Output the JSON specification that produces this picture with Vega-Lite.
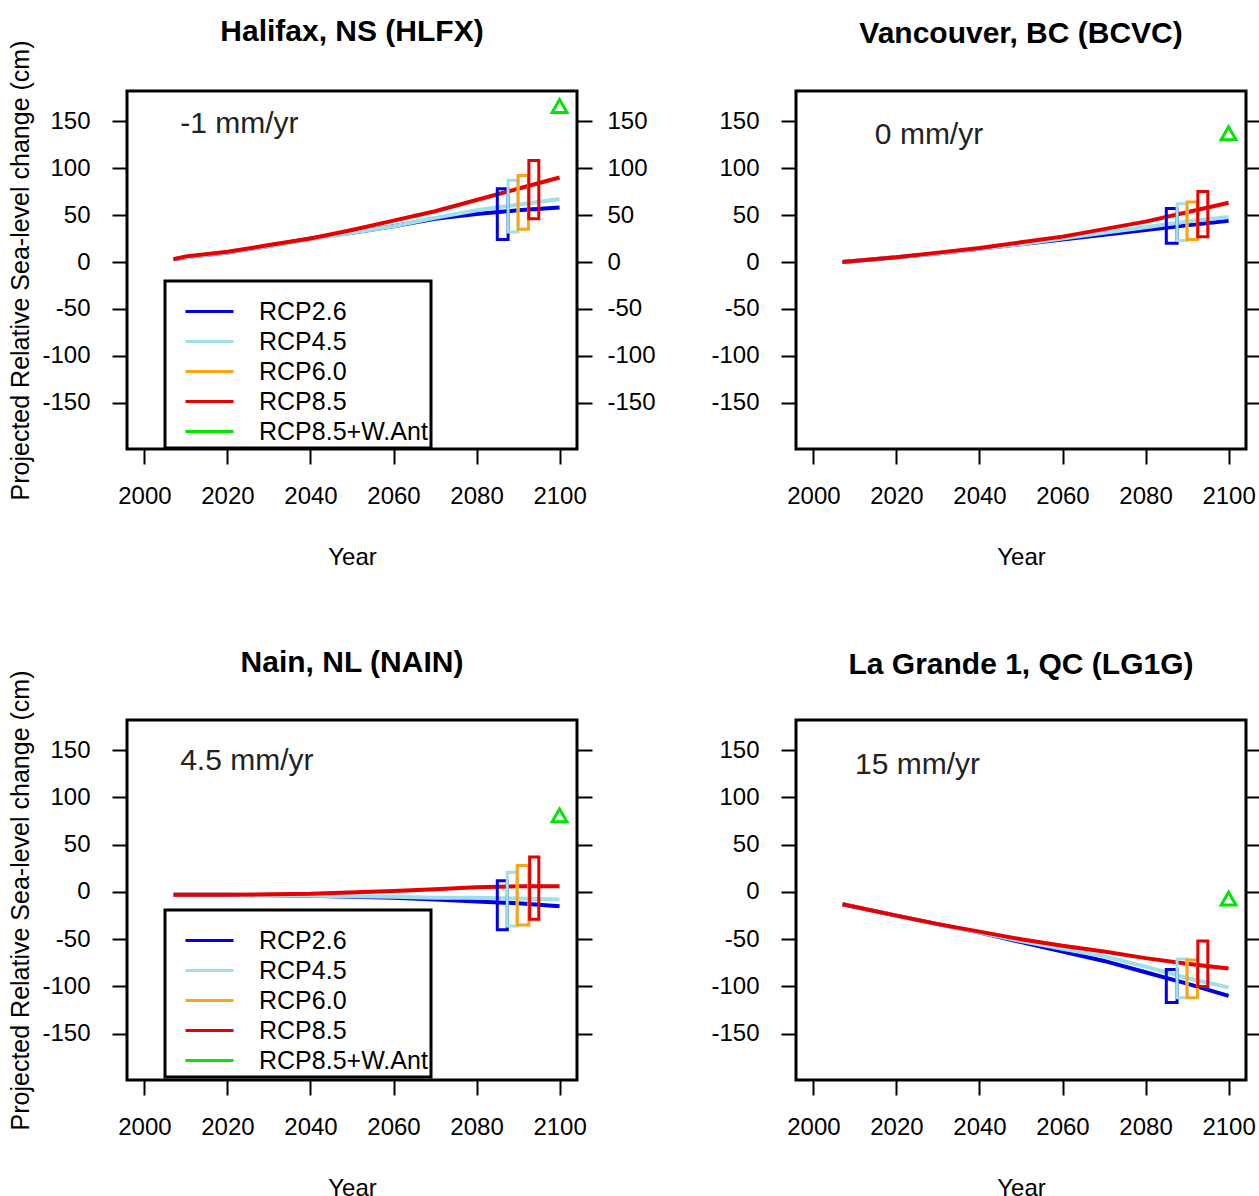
{
  "$schema": "https://vega.github.io/schema/vega-lite/v6.json",
  "background": "white",
  "padding": {"left": 7, "top": 15, "right": 0, "bottom": 0},
  "datasets": {
    "lines": [
      {"p":"HLFX","s":"RCP2.6","yr":2007,"v":3},{"p":"HLFX","s":"RCP2.6","yr":2010,"v":5},{"p":"HLFX","s":"RCP2.6","yr":2020,"v":10},{"p":"HLFX","s":"RCP2.6","yr":2030,"v":17},{"p":"HLFX","s":"RCP2.6","yr":2040,"v":25},{"p":"HLFX","s":"RCP2.6","yr":2050,"v":31},{"p":"HLFX","s":"RCP2.6","yr":2060,"v":38},{"p":"HLFX","s":"RCP2.6","yr":2070,"v":46},{"p":"HLFX","s":"RCP2.6","yr":2080,"v":51},{"p":"HLFX","s":"RCP2.6","yr":2090,"v":55},{"p":"HLFX","s":"RCP2.6","yr":2100,"v":58},
      {"p":"HLFX","s":"RCP4.5","yr":2007,"v":3},{"p":"HLFX","s":"RCP4.5","yr":2010,"v":5},{"p":"HLFX","s":"RCP4.5","yr":2020,"v":10},{"p":"HLFX","s":"RCP4.5","yr":2030,"v":17},{"p":"HLFX","s":"RCP4.5","yr":2040,"v":24},{"p":"HLFX","s":"RCP4.5","yr":2050,"v":31},{"p":"HLFX","s":"RCP4.5","yr":2060,"v":38},{"p":"HLFX","s":"RCP4.5","yr":2070,"v":47},{"p":"HLFX","s":"RCP4.5","yr":2080,"v":55},{"p":"HLFX","s":"RCP4.5","yr":2090,"v":61},{"p":"HLFX","s":"RCP4.5","yr":2100,"v":67},
      {"p":"HLFX","s":"RCP8.5","yr":2007,"v":3},{"p":"HLFX","s":"RCP8.5","yr":2010,"v":6},{"p":"HLFX","s":"RCP8.5","yr":2020,"v":11},{"p":"HLFX","s":"RCP8.5","yr":2030,"v":18},{"p":"HLFX","s":"RCP8.5","yr":2040,"v":25},{"p":"HLFX","s":"RCP8.5","yr":2050,"v":34},{"p":"HLFX","s":"RCP8.5","yr":2060,"v":44},{"p":"HLFX","s":"RCP8.5","yr":2070,"v":54},{"p":"HLFX","s":"RCP8.5","yr":2080,"v":66},{"p":"HLFX","s":"RCP8.5","yr":2090,"v":78},{"p":"HLFX","s":"RCP8.5","yr":2100,"v":90},
      {"p":"BCVC","s":"RCP2.6","yr":2007,"v":0},{"p":"BCVC","s":"RCP2.6","yr":2020,"v":5},{"p":"BCVC","s":"RCP2.6","yr":2030,"v":9},{"p":"BCVC","s":"RCP2.6","yr":2040,"v":14},{"p":"BCVC","s":"RCP2.6","yr":2050,"v":19},{"p":"BCVC","s":"RCP2.6","yr":2060,"v":24},{"p":"BCVC","s":"RCP2.6","yr":2070,"v":29},{"p":"BCVC","s":"RCP2.6","yr":2080,"v":34},{"p":"BCVC","s":"RCP2.6","yr":2090,"v":39},{"p":"BCVC","s":"RCP2.6","yr":2100,"v":44},
      {"p":"BCVC","s":"RCP4.5","yr":2007,"v":0},{"p":"BCVC","s":"RCP4.5","yr":2020,"v":5},{"p":"BCVC","s":"RCP4.5","yr":2030,"v":9},{"p":"BCVC","s":"RCP4.5","yr":2040,"v":14},{"p":"BCVC","s":"RCP4.5","yr":2050,"v":19},{"p":"BCVC","s":"RCP4.5","yr":2060,"v":25},{"p":"BCVC","s":"RCP4.5","yr":2070,"v":31},{"p":"BCVC","s":"RCP4.5","yr":2080,"v":37},{"p":"BCVC","s":"RCP4.5","yr":2090,"v":43},{"p":"BCVC","s":"RCP4.5","yr":2100,"v":48},
      {"p":"BCVC","s":"RCP8.5","yr":2007,"v":0},{"p":"BCVC","s":"RCP8.5","yr":2020,"v":5},{"p":"BCVC","s":"RCP8.5","yr":2030,"v":10},{"p":"BCVC","s":"RCP8.5","yr":2040,"v":15},{"p":"BCVC","s":"RCP8.5","yr":2050,"v":21},{"p":"BCVC","s":"RCP8.5","yr":2060,"v":27},{"p":"BCVC","s":"RCP8.5","yr":2070,"v":35},{"p":"BCVC","s":"RCP8.5","yr":2080,"v":43},{"p":"BCVC","s":"RCP8.5","yr":2090,"v":53},{"p":"BCVC","s":"RCP8.5","yr":2100,"v":63},
      {"p":"NAIN","s":"RCP2.6","yr":2007,"v":-3},{"p":"NAIN","s":"RCP2.6","yr":2020,"v":-3},{"p":"NAIN","s":"RCP2.6","yr":2040,"v":-4},{"p":"NAIN","s":"RCP2.6","yr":2060,"v":-6},{"p":"NAIN","s":"RCP2.6","yr":2070,"v":-8},{"p":"NAIN","s":"RCP2.6","yr":2080,"v":-10},{"p":"NAIN","s":"RCP2.6","yr":2090,"v":-12},{"p":"NAIN","s":"RCP2.6","yr":2100,"v":-15},
      {"p":"NAIN","s":"RCP4.5","yr":2007,"v":-3},{"p":"NAIN","s":"RCP4.5","yr":2020,"v":-3},{"p":"NAIN","s":"RCP4.5","yr":2040,"v":-4},{"p":"NAIN","s":"RCP4.5","yr":2060,"v":-5},{"p":"NAIN","s":"RCP4.5","yr":2070,"v":-6},{"p":"NAIN","s":"RCP4.5","yr":2080,"v":-6},{"p":"NAIN","s":"RCP4.5","yr":2090,"v":-7},{"p":"NAIN","s":"RCP4.5","yr":2100,"v":-8},
      {"p":"NAIN","s":"RCP8.5","yr":2007,"v":-3},{"p":"NAIN","s":"RCP8.5","yr":2020,"v":-3},{"p":"NAIN","s":"RCP8.5","yr":2040,"v":-2},{"p":"NAIN","s":"RCP8.5","yr":2060,"v":1},{"p":"NAIN","s":"RCP8.5","yr":2070,"v":3},{"p":"NAIN","s":"RCP8.5","yr":2080,"v":5},{"p":"NAIN","s":"RCP8.5","yr":2090,"v":6},{"p":"NAIN","s":"RCP8.5","yr":2100,"v":6},
      {"p":"LG1G","s":"RCP2.6","yr":2007,"v":-13},{"p":"LG1G","s":"RCP2.6","yr":2020,"v":-25},{"p":"LG1G","s":"RCP2.6","yr":2030,"v":-34},{"p":"LG1G","s":"RCP2.6","yr":2040,"v":-43},{"p":"LG1G","s":"RCP2.6","yr":2050,"v":-53},{"p":"LG1G","s":"RCP2.6","yr":2060,"v":-63},{"p":"LG1G","s":"RCP2.6","yr":2070,"v":-73},{"p":"LG1G","s":"RCP2.6","yr":2080,"v":-85},{"p":"LG1G","s":"RCP2.6","yr":2090,"v":-97},{"p":"LG1G","s":"RCP2.6","yr":2100,"v":-110},
      {"p":"LG1G","s":"RCP4.5","yr":2007,"v":-13},{"p":"LG1G","s":"RCP4.5","yr":2020,"v":-25},{"p":"LG1G","s":"RCP4.5","yr":2030,"v":-34},{"p":"LG1G","s":"RCP4.5","yr":2040,"v":-43},{"p":"LG1G","s":"RCP4.5","yr":2050,"v":-52},{"p":"LG1G","s":"RCP4.5","yr":2060,"v":-60},{"p":"LG1G","s":"RCP4.5","yr":2070,"v":-68},{"p":"LG1G","s":"RCP4.5","yr":2080,"v":-79},{"p":"LG1G","s":"RCP4.5","yr":2090,"v":-91},{"p":"LG1G","s":"RCP4.5","yr":2100,"v":-101},
      {"p":"LG1G","s":"RCP8.5","yr":2007,"v":-13},{"p":"LG1G","s":"RCP8.5","yr":2020,"v":-25},{"p":"LG1G","s":"RCP8.5","yr":2030,"v":-34},{"p":"LG1G","s":"RCP8.5","yr":2040,"v":-42},{"p":"LG1G","s":"RCP8.5","yr":2050,"v":-50},{"p":"LG1G","s":"RCP8.5","yr":2060,"v":-57},{"p":"LG1G","s":"RCP8.5","yr":2070,"v":-63},{"p":"LG1G","s":"RCP8.5","yr":2080,"v":-70},{"p":"LG1G","s":"RCP8.5","yr":2090,"v":-76},{"p":"LG1G","s":"RCP8.5","yr":2100,"v":-81}
    ],
    "boxes": [
      {"p":"HLFX","s":"RCP2.6","x1":2085.0,"x2":2087.6,"lo":24,"hi":78},
      {"p":"HLFX","s":"RCP4.5","x1":2087.6,"x2":2090.0,"lo":32,"hi":87},
      {"p":"HLFX","s":"RCP6.0","x1":2090.0,"x2":2092.5,"lo":35,"hi":92},
      {"p":"HLFX","s":"RCP8.5","x1":2092.6,"x2":2095.0,"lo":46,"hi":108},
      {"p":"BCVC","s":"RCP2.6","x1":2085.0,"x2":2087.6,"lo":20,"hi":57},
      {"p":"BCVC","s":"RCP4.5","x1":2087.6,"x2":2090.0,"lo":23,"hi":62},
      {"p":"BCVC","s":"RCP6.0","x1":2090.0,"x2":2092.5,"lo":24,"hi":64},
      {"p":"BCVC","s":"RCP8.5","x1":2092.6,"x2":2095.0,"lo":27,"hi":75},
      {"p":"NAIN","s":"RCP2.6","x1":2085.0,"x2":2087.4,"lo":-40,"hi":12},
      {"p":"NAIN","s":"RCP4.5","x1":2087.4,"x2":2089.8,"lo":-36,"hi":21},
      {"p":"NAIN","s":"RCP6.0","x1":2089.8,"x2":2092.6,"lo":-35,"hi":28},
      {"p":"NAIN","s":"RCP8.5","x1":2092.8,"x2":2095.0,"lo":-29,"hi":37},
      {"p":"LG1G","s":"RCP2.6","x1":2085.0,"x2":2087.6,"lo":-117,"hi":-82},
      {"p":"LG1G","s":"RCP4.5","x1":2087.6,"x2":2090.0,"lo":-112,"hi":-71},
      {"p":"LG1G","s":"RCP6.0","x1":2090.0,"x2":2092.5,"lo":-112,"hi":-72},
      {"p":"LG1G","s":"RCP8.5","x1":2092.6,"x2":2095.0,"lo":-100,"hi":-52}
    ],
    "tri": [
      {"p":"HLFX","yr":2100,"v":166},
      {"p":"BCVC","yr":2100,"v":137},
      {"p":"NAIN","yr":2100,"v":81},
      {"p":"LG1G","yr":2100,"v":-7}
    ],
    "rate": [
      {"p":"HLFX","yr":2008.6,"v":147,"t":"-1 mm/yr"},
      {"p":"BCVC","yr":2014.8,"v":135,"t":"0 mm/yr"},
      {"p":"NAIN","yr":2008.6,"v":139,"t":"4.5 mm/yr"},
      {"p":"LG1G","yr":2010.0,"v":134,"t":"15 mm/yr"}
    ]
  },
  "spacing": 75,
  "resolve": {"scale": {"x": "independent", "y": "independent", "color": "independent"}, "legend": {"color": "independent"}},
  "vconcat": [
    {
      "spacing": 52,
      "resolve": {"scale": {"x": "independent", "y": "independent", "color": "independent"}, "legend": {"color": "independent"}},
      "hconcat": [
        {
          "width": 450, "height": 358,
          "title": {"text": "Halifax, NS (HLFX)", "fontSize": 30, "fontWeight": "bold", "offset": 46, "dy": 53, "anchor": "middle", "frame": "group", "color": "black"},
          "resolve": {"axis": {"y": "independent"}},
          "layer": [
            {
              "data": {"name": "lines"}, "transform": [{"filter": "datum.p === 'HLFX'"}],
              "mark": {"type": "line", "strokeWidth": 4},
              "encoding": {
                "x": {"field": "yr", "type": "quantitative", "scale": {"domain": [1995.8, 2104.2], "nice": false, "zero": false},
                      "axis": {"values": [2000, 2020, 2040, 2060, 2080, 2100], "title": "Year", "format": "d", "tickSize": 15, "labelPadding": 20, "titlePadding": 37, "titleFontSize": 24, "labelFlush": false}},
                "y": {"field": "v", "type": "quantitative", "scale": {"domain": [-199, 182], "nice": false, "zero": false},
                      "axis": {"values": [-150, -100, -50, 0, 50, 100, 150], "labelExpr": "'' + datum.value", "title": "Projected Relative Sea-level change (cm)", "titleFontSize": 25, "titlePadding": 8, "tickSize": 15, "labelPadding": 22}},
                "color": {"field": "s", "type": "nominal",
                          "scale": {"domain": ["RCP2.6", "RCP4.5", "RCP6.0", "RCP8.5", "RCP8.5+W.Ant"], "range": ["#0000e6", "#9fdfea", "#f8a51c", "#e60000", "#00e600"]},
                          "legend": {"orient": "none", "legendX": 38, "legendY": 190, "title": " ", "titleFontSize": 15, "titlePadding": 0, "padding": 3, "strokeColor": "black", "symbolType": "stroke", "symbolSize": 2304, "symbolStrokeWidth": 3, "symbolOffset": 16, "labelOffset": 24, "labelFontSize": 25, "labelColor": "black", "rowPadding": 4, "clipHeight": 25, "labelLimit": 300,
                                     "encode": {"legend": {"update": {"strokeWidth": {"value": 3}}}}}}
              }
            },
            {
              "data": {"name": "boxes"}, "transform": [{"filter": "datum.p === 'HLFX'"}],
              "mark": {"type": "rect", "filled": false, "strokeWidth": 3},
              "encoding": {
                "x": {"field": "x1", "type": "quantitative", "scale": {"domain": [1995.8, 2104.2], "nice": false, "zero": false}},
                "x2": {"field": "x2"},
                "y": {"field": "lo", "type": "quantitative", "scale": {"domain": [-199, 182], "nice": false, "zero": false}, "axis": null},
                "y2": {"field": "hi"},
                "color": {"field": "s", "type": "nominal"}
              }
            },
            {
              "mark": {"type": "rule", "strokeDash": [14, 14], "strokeWidth": 3, "color": "black"},
              "encoding": {"y": {"datum": 0, "type": "quantitative", "scale": {"domain": [-199, 182], "nice": false, "zero": false}, "axis": null}}
            },
            {
              "data": {"name": "tri"}, "transform": [{"filter": "datum.p === 'HLFX'"}],
              "mark": {"type": "point", "shape": "triangle-up", "filled": false, "strokeWidth": 3, "size": 220, "color": "#00e600", "opacity": 1},
              "encoding": {
                "x": {"field": "yr", "type": "quantitative", "scale": {"domain": [1995.8, 2104.2], "nice": false, "zero": false}},
                "y": {"field": "v", "type": "quantitative", "scale": {"domain": [-199, 182], "nice": false, "zero": false},
                      "axis": {"orient": "right", "values": [-150, -100, -50, 0, 50, 100, 150], "labelExpr": "'' + datum.value", "title": null, "tickSize": 15, "labelPadding": 15, "labels": true}}
              }
            },
            {
              "data": {"name": "rate"}, "transform": [{"filter": "datum.p === 'HLFX'"}],
              "mark": {"type": "text", "align": "left", "baseline": "middle", "fontSize": 30, "color": "#222"},
              "encoding": {
                "x": {"field": "yr", "type": "quantitative", "scale": {"domain": [1995.8, 2104.2], "nice": false, "zero": false}},
                "y": {"field": "v", "type": "quantitative", "scale": {"domain": [-199, 182], "nice": false, "zero": false}, "axis": null},
                "text": {"field": "t"}
              }
            }
          ]
        },
        {
          "width": 450, "height": 358,
          "title": {"text": "Vancouver, BC (BCVC)", "fontSize": 30, "fontWeight": "bold", "offset": 42, "anchor": "middle", "frame": "group", "color": "black"},
          "resolve": {"axis": {"y": "independent"}},
          "layer": [
            {
              "data": {"name": "lines"}, "transform": [{"filter": "datum.p === 'BCVC'"}],
              "mark": {"type": "line", "strokeWidth": 4},
              "encoding": {
                "x": {"field": "yr", "type": "quantitative", "scale": {"domain": [1995.8, 2104.2], "nice": false, "zero": false},
                      "axis": {"values": [2000, 2020, 2040, 2060, 2080, 2100], "title": "Year", "format": "d", "tickSize": 15, "labelPadding": 20, "titlePadding": 37, "titleFontSize": 24, "labelFlush": false}},
                "y": {"field": "v", "type": "quantitative", "scale": {"domain": [-199, 182], "nice": false, "zero": false},
                      "axis": {"values": [-150, -100, -50, 0, 50, 100, 150], "labelExpr": "'' + datum.value", "title": null, "tickSize": 15, "labelPadding": 22}},
                "color": {"field": "s", "type": "nominal",
                          "scale": {"domain": ["RCP2.6", "RCP4.5", "RCP6.0", "RCP8.5", "RCP8.5+W.Ant"], "range": ["#0000e6", "#9fdfea", "#f8a51c", "#e60000", "#00e600"]},
                          "legend": null}
              }
            },
            {
              "data": {"name": "boxes"}, "transform": [{"filter": "datum.p === 'BCVC'"}],
              "mark": {"type": "rect", "filled": false, "strokeWidth": 3},
              "encoding": {
                "x": {"field": "x1", "type": "quantitative", "scale": {"domain": [1995.8, 2104.2], "nice": false, "zero": false}},
                "x2": {"field": "x2"},
                "y": {"field": "lo", "type": "quantitative", "scale": {"domain": [-199, 182], "nice": false, "zero": false}, "axis": null},
                "y2": {"field": "hi"},
                "color": {"field": "s", "type": "nominal", "legend": null}
              }
            },
            {
              "mark": {"type": "rule", "strokeDash": [14, 14], "strokeWidth": 3, "color": "black"},
              "encoding": {"y": {"datum": 0, "type": "quantitative", "scale": {"domain": [-199, 182], "nice": false, "zero": false}, "axis": null}}
            },
            {
              "data": {"name": "tri"}, "transform": [{"filter": "datum.p === 'BCVC'"}],
              "mark": {"type": "point", "shape": "triangle-up", "filled": false, "strokeWidth": 3, "size": 220, "color": "#00e600", "opacity": 1},
              "encoding": {
                "x": {"field": "yr", "type": "quantitative", "scale": {"domain": [1995.8, 2104.2], "nice": false, "zero": false}},
                "y": {"field": "v", "type": "quantitative", "scale": {"domain": [-199, 182], "nice": false, "zero": false},
                      "axis": {"orient": "right", "values": [-150, -100, -50, 0, 50, 100, 150], "title": null, "tickSize": 15, "labels": false}}
              }
            },
            {
              "data": {"name": "rate"}, "transform": [{"filter": "datum.p === 'BCVC'"}],
              "mark": {"type": "text", "align": "left", "baseline": "middle", "fontSize": 30, "color": "#222"},
              "encoding": {
                "x": {"field": "yr", "type": "quantitative", "scale": {"domain": [1995.8, 2104.2], "nice": false, "zero": false}},
                "y": {"field": "v", "type": "quantitative", "scale": {"domain": [-199, 182], "nice": false, "zero": false}, "axis": null},
                "text": {"field": "t"}
              }
            }
          ]
        }
      ]
    },
    {
      "spacing": 114,
      "resolve": {"scale": {"x": "independent", "y": "independent", "color": "independent"}, "legend": {"color": "independent"}},
      "hconcat": [
        {
          "width": 450, "height": 360,
          "title": {"text": "Nain, NL (NAIN)", "fontSize": 30, "fontWeight": "bold", "offset": 46, "dy": 54, "anchor": "middle", "frame": "group", "color": "black"},
          "resolve": {"axis": {"y": "independent"}},
          "layer": [
            {
              "data": {"name": "lines"}, "transform": [{"filter": "datum.p === 'NAIN'"}],
              "mark": {"type": "line", "strokeWidth": 4},
              "encoding": {
                "x": {"field": "yr", "type": "quantitative", "scale": {"domain": [1995.8, 2104.2], "nice": false, "zero": false},
                      "axis": {"values": [2000, 2020, 2040, 2060, 2080, 2100], "title": "Year", "format": "d", "tickSize": 15, "labelPadding": 20, "titlePadding": 37, "titleFontSize": 24, "labelFlush": false}},
                "y": {"field": "v", "type": "quantitative", "scale": {"domain": [-199, 182], "nice": false, "zero": false},
                      "axis": {"values": [-150, -100, -50, 0, 50, 100, 150], "labelExpr": "'' + datum.value", "title": "Projected Relative Sea-level change (cm)", "titleFontSize": 25, "titlePadding": 8, "tickSize": 15, "labelPadding": 22}},
                "color": {"field": "s", "type": "nominal",
                          "scale": {"domain": ["RCP2.6", "RCP4.5", "RCP6.0", "RCP8.5", "RCP8.5+W.Ant"], "range": ["#0000e6", "#9fdfea", "#f8a51c", "#e60000", "#00e600"]},
                          "legend": {"orient": "none", "legendX": 38, "legendY": 190, "title": " ", "titleFontSize": 15, "titlePadding": 0, "padding": 3, "strokeColor": "black", "symbolType": "stroke", "symbolSize": 2304, "symbolStrokeWidth": 3, "symbolOffset": 16, "labelOffset": 24, "labelFontSize": 25, "labelColor": "black", "rowPadding": 4, "clipHeight": 25, "labelLimit": 300,
                                     "encode": {"legend": {"update": {"strokeWidth": {"value": 3}}}}}}
              }
            },
            {
              "data": {"name": "boxes"}, "transform": [{"filter": "datum.p === 'NAIN'"}],
              "mark": {"type": "rect", "filled": false, "strokeWidth": 3},
              "encoding": {
                "x": {"field": "x1", "type": "quantitative", "scale": {"domain": [1995.8, 2104.2], "nice": false, "zero": false}},
                "x2": {"field": "x2"},
                "y": {"field": "lo", "type": "quantitative", "scale": {"domain": [-199, 182], "nice": false, "zero": false}, "axis": null},
                "y2": {"field": "hi"},
                "color": {"field": "s", "type": "nominal"}
              }
            },
            {
              "mark": {"type": "rule", "strokeDash": [14, 14], "strokeWidth": 3, "color": "black"},
              "encoding": {"y": {"datum": 0, "type": "quantitative", "scale": {"domain": [-199, 182], "nice": false, "zero": false}, "axis": null}}
            },
            {
              "data": {"name": "tri"}, "transform": [{"filter": "datum.p === 'NAIN'"}],
              "mark": {"type": "point", "shape": "triangle-up", "filled": false, "strokeWidth": 3, "size": 220, "color": "#00e600", "opacity": 1},
              "encoding": {
                "x": {"field": "yr", "type": "quantitative", "scale": {"domain": [1995.8, 2104.2], "nice": false, "zero": false}},
                "y": {"field": "v", "type": "quantitative", "scale": {"domain": [-199, 182], "nice": false, "zero": false},
                      "axis": {"orient": "right", "values": [-150, -100, -50, 0, 50, 100, 150], "title": null, "tickSize": 15, "labels": false}}
              }
            },
            {
              "data": {"name": "rate"}, "transform": [{"filter": "datum.p === 'NAIN'"}],
              "mark": {"type": "text", "align": "left", "baseline": "middle", "fontSize": 30, "color": "#222"},
              "encoding": {
                "x": {"field": "yr", "type": "quantitative", "scale": {"domain": [1995.8, 2104.2], "nice": false, "zero": false}},
                "y": {"field": "v", "type": "quantitative", "scale": {"domain": [-199, 182], "nice": false, "zero": false}, "axis": null},
                "text": {"field": "t"}
              }
            }
          ]
        },
        {
          "width": 450, "height": 360,
          "title": {"text": "La Grande 1, QC (LG1G)", "fontSize": 30, "fontWeight": "bold", "offset": 40, "anchor": "middle", "frame": "group", "color": "black"},
          "resolve": {"axis": {"y": "independent"}},
          "layer": [
            {
              "data": {"name": "lines"}, "transform": [{"filter": "datum.p === 'LG1G'"}],
              "mark": {"type": "line", "strokeWidth": 4},
              "encoding": {
                "x": {"field": "yr", "type": "quantitative", "scale": {"domain": [1995.8, 2104.2], "nice": false, "zero": false},
                      "axis": {"values": [2000, 2020, 2040, 2060, 2080, 2100], "title": "Year", "format": "d", "tickSize": 15, "labelPadding": 20, "titlePadding": 37, "titleFontSize": 24, "labelFlush": false}},
                "y": {"field": "v", "type": "quantitative", "scale": {"domain": [-199, 182], "nice": false, "zero": false},
                      "axis": {"values": [-150, -100, -50, 0, 50, 100, 150], "labelExpr": "'' + datum.value", "title": null, "tickSize": 15, "labelPadding": 22}},
                "color": {"field": "s", "type": "nominal",
                          "scale": {"domain": ["RCP2.6", "RCP4.5", "RCP6.0", "RCP8.5", "RCP8.5+W.Ant"], "range": ["#0000e6", "#9fdfea", "#f8a51c", "#e60000", "#00e600"]},
                          "legend": null}
              }
            },
            {
              "data": {"name": "boxes"}, "transform": [{"filter": "datum.p === 'LG1G'"}],
              "mark": {"type": "rect", "filled": false, "strokeWidth": 3},
              "encoding": {
                "x": {"field": "x1", "type": "quantitative", "scale": {"domain": [1995.8, 2104.2], "nice": false, "zero": false}},
                "x2": {"field": "x2"},
                "y": {"field": "lo", "type": "quantitative", "scale": {"domain": [-199, 182], "nice": false, "zero": false}, "axis": null},
                "y2": {"field": "hi"},
                "color": {"field": "s", "type": "nominal", "legend": null}
              }
            },
            {
              "mark": {"type": "rule", "strokeDash": [14, 14], "strokeWidth": 3, "color": "black"},
              "encoding": {"y": {"datum": 0, "type": "quantitative", "scale": {"domain": [-199, 182], "nice": false, "zero": false}, "axis": null}}
            },
            {
              "data": {"name": "tri"}, "transform": [{"filter": "datum.p === 'LG1G'"}],
              "mark": {"type": "point", "shape": "triangle-up", "filled": false, "strokeWidth": 3, "size": 220, "color": "#00e600", "opacity": 1},
              "encoding": {
                "x": {"field": "yr", "type": "quantitative", "scale": {"domain": [1995.8, 2104.2], "nice": false, "zero": false}},
                "y": {"field": "v", "type": "quantitative", "scale": {"domain": [-199, 182], "nice": false, "zero": false},
                      "axis": {"orient": "right", "values": [-150, -100, -50, 0, 50, 100, 150], "title": null, "tickSize": 15, "labels": false}}
              }
            },
            {
              "data": {"name": "rate"}, "transform": [{"filter": "datum.p === 'LG1G'"}],
              "mark": {"type": "text", "align": "left", "baseline": "middle", "fontSize": 30, "color": "#222"},
              "encoding": {
                "x": {"field": "yr", "type": "quantitative", "scale": {"domain": [1995.8, 2104.2], "nice": false, "zero": false}},
                "y": {"field": "v", "type": "quantitative", "scale": {"domain": [-199, 182], "nice": false, "zero": false}, "axis": null},
                "text": {"field": "t"}
              }
            }
          ]
        }
      ]
    }
  ],
  "config": {
    "font": "Liberation Sans",
    "view": {"stroke": "black", "strokeWidth": 3},
    "axis": {"grid": false, "domain": false, "tickColor": "black", "tickWidth": 2, "labelColor": "black", "labelFontSize": 24, "labelFont": "Liberation Sans", "titleFont": "Liberation Sans", "titleColor": "black", "titleFontWeight": "normal"},
    "legend": {"labelFont": "Liberation Sans"},
    "title": {"font": "Liberation Sans"}
  }
}
